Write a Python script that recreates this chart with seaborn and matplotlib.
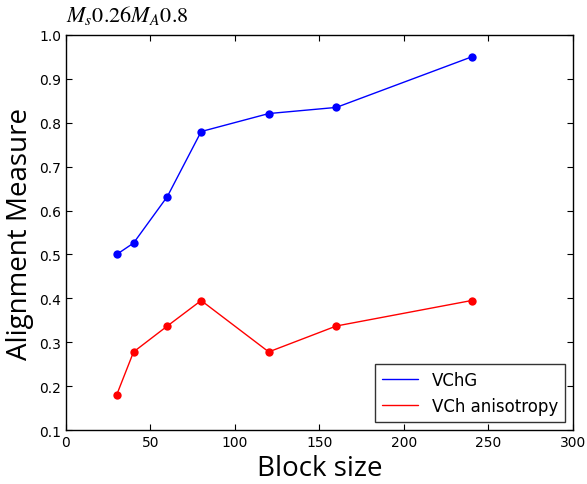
import matplotlib
matplotlib.use("Agg")
import matplotlib.pyplot as plt
import seaborn as sns
import pandas as pd

block_size = [30, 40, 60, 80, 120, 160, 240]
vchg = [0.500, 0.526, 0.632, 0.780, 0.821, 0.835, 0.950]
vch_aniso = [0.180, 0.278, 0.337, 0.395, 0.278, 0.337, 0.395]
series_names = ["VChG", "VCh anisotropy"]

sns.set_style("ticks")
plt.rcParams['font.family'] = ['DejaVu Sans']
plt.rcParams['mathtext.fontset'] = 'stix'
plt.rcParams['text.color'] = 'black'
plt.rcParams['axes.labelcolor'] = 'black'
plt.rcParams['xtick.color'] = 'black'
plt.rcParams['ytick.color'] = 'black'

df = pd.DataFrame({
    "Block size": block_size * 2,
    "value": vchg + vch_aniso,
    "series": [series_names[0]] * len(block_size) + [series_names[1]] * len(block_size),
})

fig = plt.figure(figsize=(5.87, 4.85), dpi=100)
ax = fig.add_axes([0.1124, 0.1113, 0.8636, 0.8145])
sns.lineplot(data=df, x="Block size", y="value", hue="series",
             palette={"VChG": "blue", "VCh anisotropy": "red"},
             marker="o", markersize=6, markeredgewidth=0, linewidth=1, ax=ax)

ax.set_xlim(0, 300)
ax.set_ylim(0.1, 1.0)
ax.set_xticks(range(0, 301, 50))
ax.set_yticks([0.1, 0.2, 0.3, 0.4, 0.5, 0.6, 0.7, 0.8, 0.9, 1.0])
ax.tick_params(direction="in", top=True, right=True, labelsize=10, length=4)
for s in ax.spines.values():
    s.set_visible(True)
    s.set_color("black")
    s.set_linewidth(1)

ax.set_xlabel("Block size", fontsize=20, family="Open Sans", color="black")
ax.set_ylabel("Alignment Measure", fontsize=20, family="Open Sans", color="black")
ax.set_title(r"$M_s0.26M_A0.8$", loc="left", fontsize=16, pad=10, color="black")

leg = ax.legend(loc="lower right", fontsize=12, frameon=True, fancybox=False,
                borderpad=0.4, handlelength=2.2)
for h in leg.legend_handles:
    h.set_marker("")
for t in leg.get_texts():
    t.set_color("black")
leg.get_frame().set_edgecolor("black")
leg.get_frame().set_linewidth(1)

fig.savefig("out.png", dpi=100)
